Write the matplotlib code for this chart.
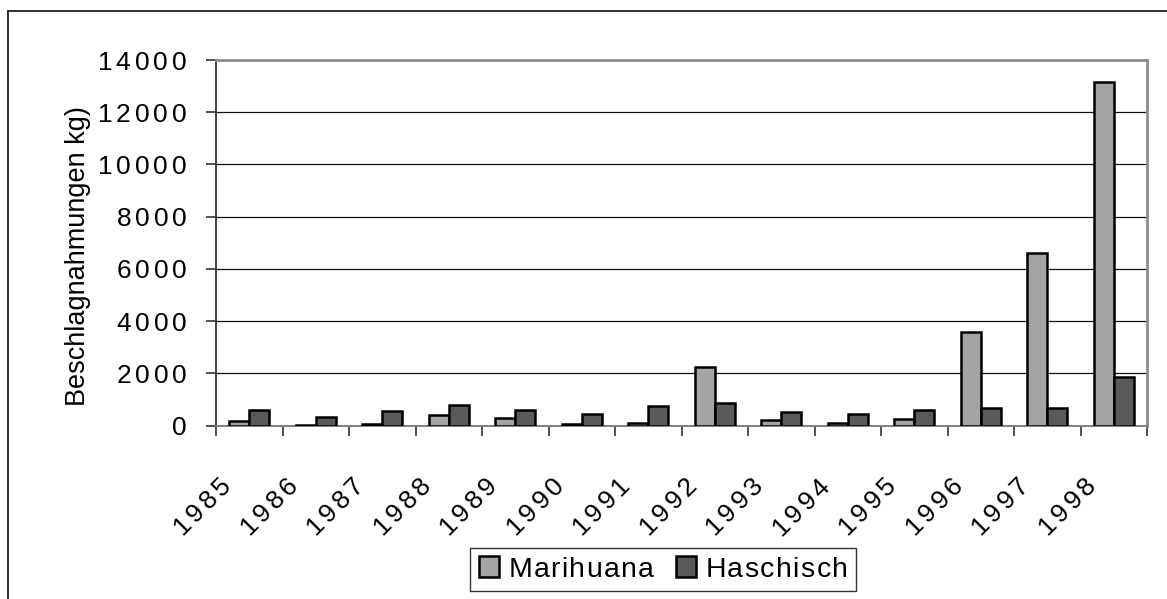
#!/usr/bin/env python3
"""Sicherstellungen Marihuana / Haschisch 1985-1998, Excel-style grouped bars."""

import matplotlib
matplotlib.use("Agg")
import matplotlib.pyplot as plt
import numpy as np
from matplotlib.lines import Line2D
from matplotlib.transforms import ScaledTranslation

years = ["1985", "1986", "1987", "1988", "1989", "1990", "1991",
         "1992", "1993", "1994", "1995", "1996", "1997", "1998"]
marihuana = [180, 40, 50, 420, 280, 60, 100,
             2250, 220, 120, 260, 3580, 6630, 13170]
haschisch = [610, 345, 545, 790, 600, 450, 765,
             880, 510, 460, 600, 690, 665, 1850]
yticks = [0, 2000, 4000, 6000, 8000, 10000, 12000, 14000]

W, H, DPI = 1167, 599, 100
plt.rcParams["font.family"] = ["Liberation Sans", "DejaVu Sans"]
plt.rcParams["mathtext.fontset"] = "custom"
plt.rcParams["mathtext.rm"] = "Liberation Sans"


def spaced(s, gap=0.15):
    # Excel-ish letter spacing
    sep = r"\hspace{%g}" % gap
    return r"$\mathregular{" + sep.join(s) + "}$"


fig = plt.figure(figsize=(W / DPI, H / DPI), dpi=DPI)
ax = fig.add_axes([216 / W, 1 - 425.7 / H, (1147 - 216) / W, (425.7 - 60) / H])

x = np.arange(len(years))
bw = 0.3
ax.bar(x - bw / 2, marihuana, bw, color="#a4a4a4", edgecolor="black",
       linewidth=1.8, zorder=3, label=spaced("Marihuana", 0.05))
ax.bar(x + bw / 2, haschisch, bw, color="#5a5a5a", edgecolor="black",
       linewidth=1.8, zorder=3, label=spaced("Haschisch", 0.05))

ax.set_xlim(-0.5, len(years) - 0.5)
ax.set_ylim(0, 14000)
ax.set_yticks(yticks)
ax.set_yticklabels([spaced(str(v)) for v in yticks])
ax.yaxis.grid(True, color="#111111", linewidth=0.9, zorder=0)
ax.set_axisbelow(True)

# boundary ticks without labels, labels centred on categories
ax.set_xticks(np.arange(len(years) + 1) - 0.5)
ax.set_xticklabels([])
ax.set_xticks(x, minor=True)
ax.set_xticklabels([spaced(y) for y in years], minor=True, rotation=45,
                   ha="right", va="center", rotation_mode="anchor", fontsize=19)
ax.tick_params(axis="x", which="minor", length=0, pad=41)
ax.tick_params(axis="x", which="major", length=7.5, width=1.2, color="#333333")
ax.tick_params(axis="y", length=7.5, width=1.2, pad=13.5, labelsize=19,
               color="#333333")
shift = ScaledTranslation(-0.21, 0, fig.dpi_scale_trans)
for lab in ax.get_xticklabels(minor=True):
    lab.set_transform(lab.get_transform() + shift)

for side in ("top", "right"):
    ax.spines[side].set_color("#8c8c8c")
    ax.spines[side].set_linewidth(2)
ax.spines["left"].set_color("#333333")
ax.spines["left"].set_linewidth(1.3)
ax.spines["bottom"].set_color("#777777")
ax.spines["bottom"].set_linewidth(1.3)

ax.set_ylabel("Beschlagnahmungen kg)", fontsize=19.5)
ax.yaxis.set_label_coords(-0.134, 0.464)

leg = fig.legend(loc="center", bbox_to_anchor=(663 / W, 1 - 569.5 / H),
                 ncol=2, fontsize=20.5, frameon=True, fancybox=False,
                 edgecolor="black", handlelength=0.72, handleheight=0.72,
                 handletextpad=0.3, columnspacing=0.7, borderpad=0.3,
                 borderaxespad=0)
leg.get_frame().set_linewidth(1.0)

# outer chart frame (only left and top edges fall inside the picture)
fig.add_artist(Line2D([8 / W, 8 / W], [0, 1 - 11 / H], color="#222222",
                      linewidth=1.3, transform=fig.transFigure))
fig.add_artist(Line2D([8 / W, 1], [1 - 11 / H, 1 - 11 / H], color="#222222",
                      linewidth=1.3, transform=fig.transFigure))

fig.savefig("out.png", dpi=DPI)
